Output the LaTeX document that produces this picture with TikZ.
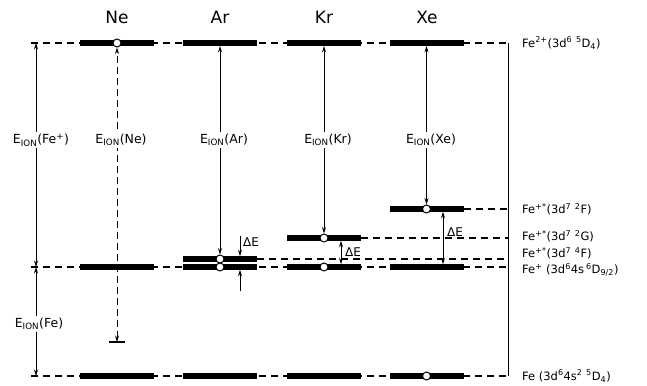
\documentclass[tikz,border=0pt]{standalone}
\usepackage{fontspec}
\setmainfont{DejaVu Sans}
\usetikzlibrary{arrows.meta}
\pgfdeclarelayer{bg}\pgfsetlayers{bg,main}
\begin{document}
\begin{tikzpicture}[x=1pt,y=-1pt,
  bar/.style={rectangle,fill=black,inner sep=0pt,minimum width=74pt,minimum height=5.5pt},
  lvl/.style={circle,draw,fill=white,line width=1pt,inner sep=0pt,minimum size=8pt},
  dl/.style={line width=1.1pt,dash pattern=on 7pt off 5pt},
  tip/.tip={Stealth[length=6.5pt,width=4pt]},
  arr/.style={line width=0.7pt,tip-tip},
  sarr/.style={line width=0.7pt,-tip},
  title/.style={font=\fontsize{17}{20}\selectfont},
  elab/.style={font=\fontsize{12.5}{15}\selectfont,fill=white,inner sep=2pt},
  dlab/.style={font=\fontsize{12}{14}\selectfont,anchor=west,inner sep=0pt},
  rlab/.style={font=\fontsize{11.5}{13}\selectfont,anchor=west,inner sep=0pt}]
\useasboundingbox (0,0) rectangle (647,385);

% titles
\node[title] (tNe) at (117,17) {Ne};
\node[title] (tAr) at (220,17) {Ar};
\node[title] (tKr) at (324,17) {Kr};
\node[title] (tXe) at (427,17) {Xe};

% bars
\node[bar] (ne0) at (117,43) {};
\node[bar] (ne4) at (117,267) {};
\node[bar] (ne5) at (117,376) {};
\node[bar] (ar0) at (220,43) {};
\node[bar] (ar3) at (220,259) {};
\node[bar] (ar4) at (220,267) {};
\node[bar] (ar5) at (220,376) {};
\node[bar] (kr0) at (324,43) {};
\node[bar] (kr2) at (324,238) {};
\node[bar] (kr4) at (324,267) {};
\node[bar] (kr5) at (324,376) {};
\node[bar] (xe0) at (426.5,43) {};
\node[bar] (xe1) at (426.5,209) {};
\node[bar] (xe4) at (426.5,267) {};
\node[bar] (xe5) at (426.5,376) {};

% coordinates
\coordinate (ld0) at (31,43);
\coordinate (ld4) at (31,267);
\coordinate (ld5) at (31,376);
\coordinate (la0) at (36,43);
\coordinate (la4) at (36,267);
\coordinate (la5) at (36,376);
\coordinate (rt0) at (508,43);
\coordinate (rt1) at (508,209);
\coordinate (rt2) at (508,238);
\coordinate (rt3) at (508,259);
\coordinate (rt4) at (508,267);
\coordinate (rt5) at (508,376);
\coordinate (tne) at (117,342);
\coordinate (tneL) at (109,342);
\coordinate (tneR) at (125,342);
\coordinate (dA1) at (240,236);
\coordinate (dA2) at (240,256.25);
\coordinate (dA3) at (240,269.75);
\coordinate (dA4) at (240,291);
\coordinate (dK1) at (341,240.75);
\coordinate (dK2) at (341,264.25);
\coordinate (dX1) at (443,211.75);
\coordinate (dX2) at (443,264.25);

% dashed level lines
\begin{pgfonlayer}{bg}
\draw[dl] (ld0) -- (rt0);
\draw[dl] (ld4) -- (rt4);
\draw[dl] (ld5) -- (rt5);
\draw[dl] (xe1.east) -- (rt1);
\draw[dl] (kr2.east) -- (rt2);
\draw[dl] (ar3.east) -- (rt3);
\end{pgfonlayer}

% right vertical line
\draw[line width=0.9pt] (rt0) -- (rt5);

% circles
\node[lvl] (cne0) at (117,43) {};
\node[lvl] (car3) at (220,259) {};
\node[lvl] (car4) at (220,267) {};
\node[lvl] (ckr2) at (324,238) {};
\node[lvl] (ckr4) at (324,267) {};
\node[lvl] (cxe1) at (426.5,209) {};
\node[lvl] (cxe5) at (426.5,376) {};

% ionisation arrows
\draw[arr] (la4) -- (la0);
\draw[arr] (la4) -- (la5);
\draw[arr,dash pattern=on 7pt off 4pt] (tne) -- (cne0.south);
\draw[line width=1.8pt] (tneL) -- (tneR);
\draw[arr] (ar0.south) -- (car3.north);
\draw[arr] (kr0.south) -- (ckr2.north);
\draw[arr] (xe0.south) -- (cxe1.north);

\node[elab] (eFep) at (41,140) {E\textsubscript{ION}(Fe\textsuperscript{+})};
\node[elab] (eFe) at (39,324) {E\textsubscript{ION}(Fe)};
\node[elab] (eNe) at (121,140) {E\textsubscript{ION}(Ne)};
\node[elab] (eAr) at (224,140) {E\textsubscript{ION}(Ar)};
\node[elab] (eKr) at (328,140) {E\textsubscript{ION}(Kr)};
\node[elab] (eXe) at (431,140) {E\textsubscript{ION}(Xe)};

% Delta E
\draw[sarr] (dA1) -- (dA2);
\draw[sarr] (dA4) -- (dA3);
\node[dlab] (lA) at (243,242) {ΔE};
\draw[arr] (dK1) -- (dK2);
\node[dlab] (lK) at (345,252) {ΔE};
\draw[arr] (dX1) -- (dX2);
\node[dlab] (lX) at (447,232) {ΔE};

% right labels
\node[rlab] (r0) at (522,43) {Fe\textsuperscript{2+}(3d\textsuperscript{6} \textsuperscript{5}D\textsubscript{4})};
\node[rlab] (r1) at (522,209) {Fe\textsuperscript{+*}(3d\textsuperscript{7} \textsuperscript{2}F)};
\node[rlab] (r2) at (522,236) {Fe\textsuperscript{+*}(3d\textsuperscript{7} \textsuperscript{2}G)};
\node[rlab] (r3) at (522,253) {Fe\textsuperscript{+*}(3d\textsuperscript{7} \textsuperscript{4}F)};
\node[rlab] (r4) at (522,270) {Fe\textsuperscript{+} (3d\textsuperscript{6}4s\,\textsuperscript{6}D\textsubscript{9/2})};
\node[rlab] (r5) at (522,376) {Fe (3d\textsuperscript{6}4s\textsuperscript{2} \textsuperscript{5}D\textsubscript{4})};
\end{tikzpicture}
\end{document}
